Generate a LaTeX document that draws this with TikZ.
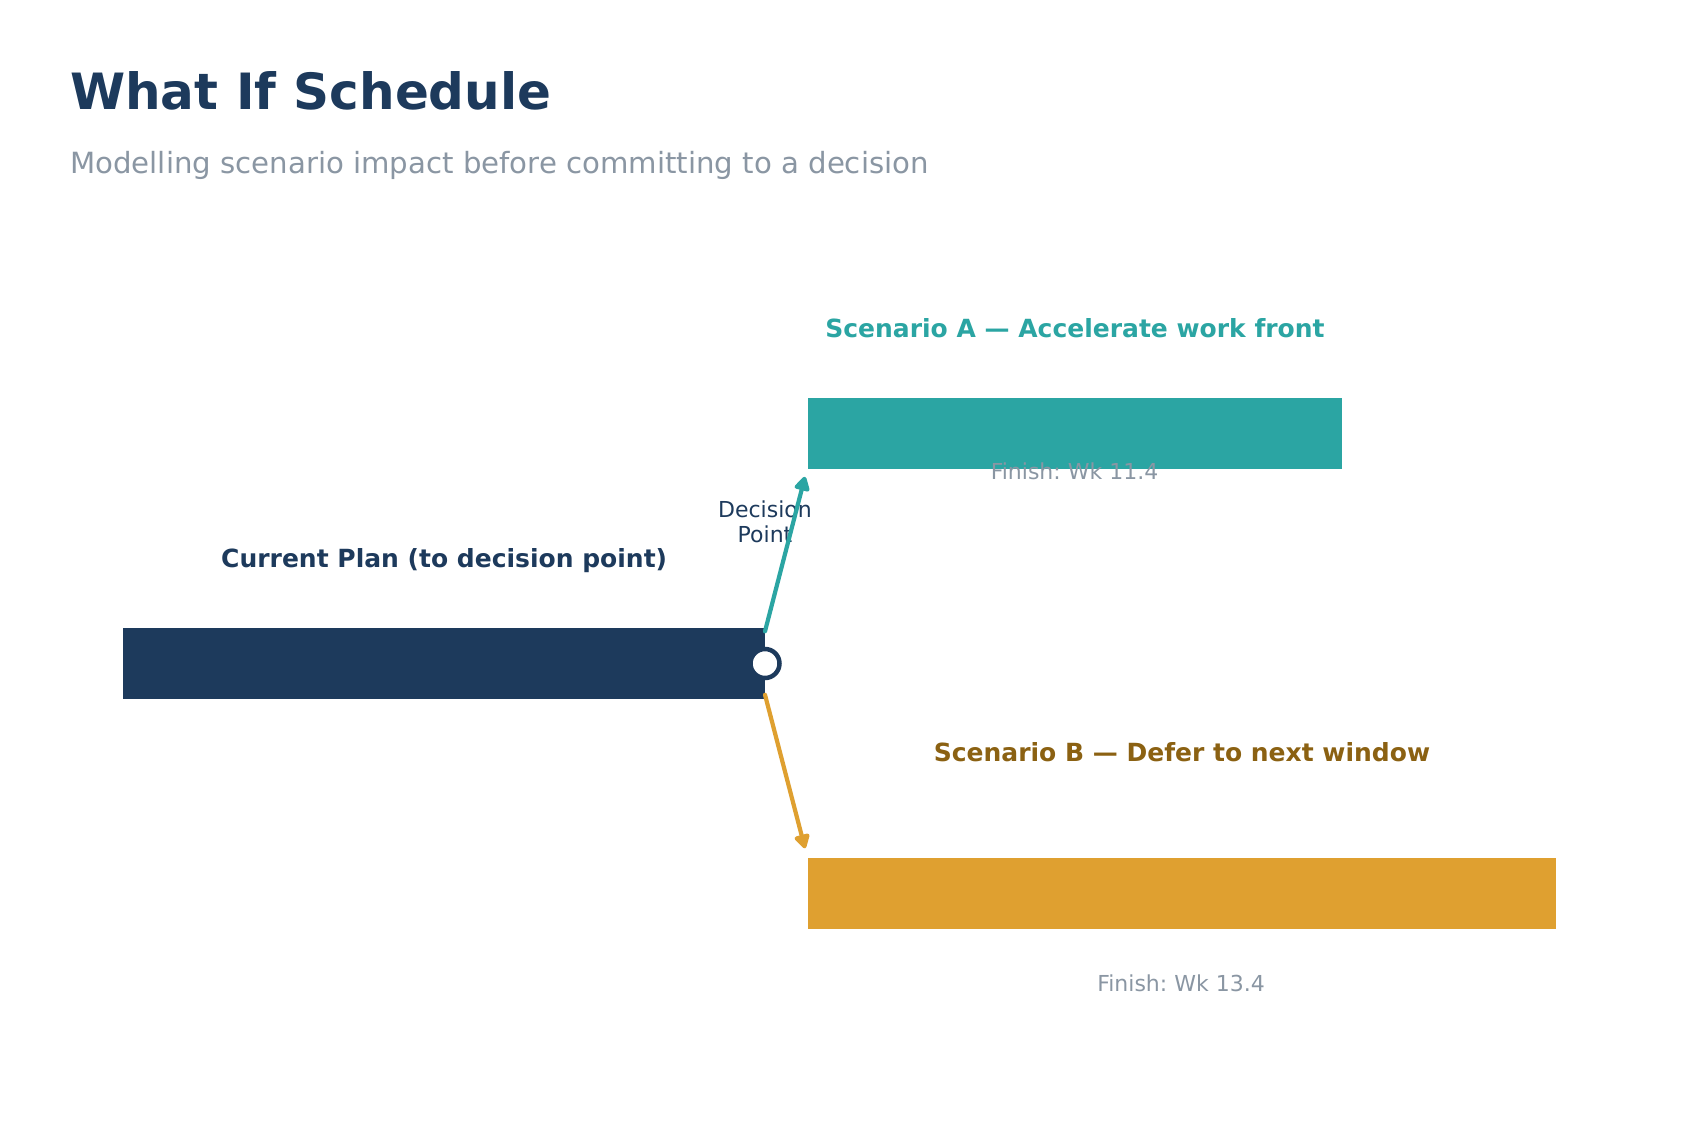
\documentclass[tikz,border=0pt]{standalone}
\usepackage{fontspec}
\setmainfont{DejaVu Sans}
\usetikzlibrary{arrows.meta}
\frenchspacing
\definecolor{navy}{HTML}{1D3A5C}
\definecolor{teal}{HTML}{2BA5A3}
\definecolor{amber}{HTML}{DFA030}
\definecolor{brownB}{HTML}{8B6112}
\definecolor{grayT}{HTML}{8A96A3}
\tikzset{
  bar/.style={rectangle, inner sep=0pt, outer sep=0pt, draw=none, minimum height=70.5pt, anchor=north west},
  lbl/.style={inner sep=0pt, outer sep=0pt, anchor=base, font=\bfseries\fontsize{25}{30}\selectfont},
  fin/.style={inner sep=0pt, outer sep=0pt, anchor=base, text=grayT, font=\fontsize{22}{26}\selectfont},
  conn/.style={line width=4.2pt, line cap=round, -{Triangle[length=16pt,width=17pt,round]}},
}
\begin{document}
\begin{tikzpicture}[x=1pt,y=-1pt]
\useasboundingbox (0,0) rectangle (1689,1140);
\fill[white] (0,0) rectangle (1689,1140);
% title
\node[inner sep=0pt, anchor=base west, text=navy, font=\bfseries\fontsize{50}{60}\selectfont] (title) at (70,109.3) {What If Schedule};
\node[inner sep=0pt, anchor=base west, text=grayT, font=\fontsize{29.2}{34}\selectfont] (sub) at (70,173.5) {Modelling scenario impact before committing to a decision};
% bars
\node[bar, fill=navy, minimum width=642pt] (cur) at (123,628.3) {};
\node[bar, fill=teal, minimum width=534pt] (barA) at (808,398.3) {};
\node[bar, fill=amber, minimum width=748pt] (barB) at (808,858.3) {};
% labels
\node[lbl, text=navy] (curL) at (444.2,567.7) {Current Plan (to decision point)};
\node[lbl, text=teal] (labA) at (1075,337.7) {Scenario A — Accelerate work front};
\node[lbl, text=brownB] (labB) at (1182,761.7) {Scenario B — Defer to next window};
\node[fin] (finA) at (1074.5,479.3) {Finish: Wk 11.4};
\node[fin] (finB) at (1181,991.7) {Finish: Wk 13.4};
% decision point
\node[circle, fill=white, draw=navy, line width=4.5pt, minimum size=29pt, inner sep=0pt] (dp) at (765,663.5) {};
\node[inner sep=0pt, anchor=north, align=center, text=navy, font=\fontsize{22}{24.5}\selectfont] (dpL) at (765,500.6) {Decision\\Point};
% connectors
\draw[conn, teal] ([yshift=-3pt]cur.north east) -- ([shift={(-3pt,-8pt)}]barA.south west);
\draw[conn, amber] ([yshift=4pt]cur.south east) -- ([shift={(-3pt,10pt)}]barB.north west);
\end{tikzpicture}
\end{document}
